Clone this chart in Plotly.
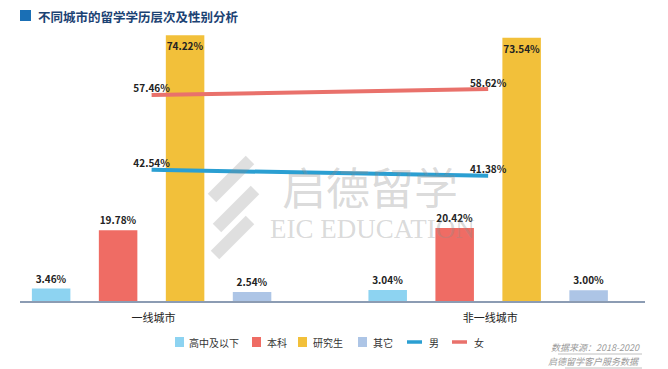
import plotly.graph_objects as go

cities = ["一线城市", "非一线城市"]
edu_levels = ["高中及以下", "本科", "研究生", "其它"]
edu_values = {
    "高中及以下": [3.46, 3.04],
    "本科": [19.78, 20.42],
    "研究生": [74.22, 73.54],
    "其它": [2.54, 3.00],
}
gender_names = ["男", "女"]
male = [42.54, 41.38]
female = [57.46, 58.62]

bar_colors = {"高中及以下": "#8dd3f1", "本科": "#ef6c64", "研究生": "#f2c03a", "其它": "#adc5e6"}
line_colors = {"男": "#2b9fd2", "女": "#e9716b"}
FONT = "Noto Sans CJK SC"

W, H = 668, 369
L, R, T, B = 20, 645, 30, 301


def px_x(p):
    return (p - L) / (R - L)


def px_y(p):
    return (B - p) / (B - T)


fig = go.Figure()
for lvl in edu_levels:
    inside = lvl == "研究生"
    fig.add_trace(go.Bar(
        name=lvl, x=cities, y=edu_values[lvl],
        marker=dict(color=bar_colors[lvl], line=dict(width=0)),
        text=[f"{v:.2f}%" for v in edu_values[lvl]],
        textposition="inside" if inside else "outside",
        insidetextanchor="end",
        constraintext="none",
        textangle=0,
        textfont=dict(family=FONT, size=10, color="#222222", weight="bold"),
        outsidetextfont=dict(family=FONT, size=10, color="#222222", weight="bold"),
        insidetextfont=dict(family=FONT, size=10, color="#222222", weight="bold"),
        cliponaxis=False, showlegend=False,
    ))

for nm, vals in zip(gender_names, [male, female]):
    fig.add_trace(go.Scatter(
        name=nm, x=cities, y=vals, yaxis="y2", mode="lines+text",
        line=dict(color=line_colors[nm], width=4),
        text=[f"{v:.2f}%" for v in vals], textposition="top center",
        textfont=dict(family=FONT, size=10, color="#222222", weight="bold"),
        cliponaxis=False, showlegend=False,
    ))

fig.update_layout(
    width=W, height=H,
    margin=dict(l=L, r=W - R, t=T, b=H - B),
    paper_bgcolor="white", plot_bgcolor="white",
    barmode="group", bargap=0.204, bargroupgap=0.425,
    font=dict(family=FONT, size=10, color="#333333"),
    showlegend=False,
    xaxis=dict(type="category", range=[-0.391, 1.466], showgrid=False, zeroline=False,
               showline=True, linecolor="#8c9cb3", linewidth=2, ticks="",
               tickfont=dict(family=FONT, size=11, color="#222222"), ticklabelstandoff=6,
               ticklabelshift=2),
    yaxis=dict(range=[0, 75.7], visible=False, showgrid=False, fixedrange=True),
    yaxis2=dict(range=[16.4, 70.4], overlaying="y", visible=False, showgrid=False),
)

# Legend (drawn as shapes + text, matching the reference's compact layout)
legend_items = [(n, "bar", bar_colors[n]) for n in edu_levels] + \
               [(n, "line", line_colors[n]) for n in gender_names]
legend_sym_x = [175, 252, 298, 358, 407, 452]
legend_txt_x = [187, 265, 311, 371, 427, 472]
LEG_Y = 342
for (name, kind, col), sx, tx in zip(legend_items, legend_sym_x, legend_txt_x):
    if kind == "bar":
        fig.add_shape(type="rect", xref="paper", yref="paper",
                      x0=px_x(sx), x1=px_x(sx + 9), y0=px_y(LEG_Y + 5), y1=px_y(LEG_Y - 5),
                      fillcolor=col, line=dict(width=0))
    else:
        fig.add_shape(type="line", xref="paper", yref="paper",
                      x0=px_x(sx), x1=px_x(sx + 15), y0=px_y(LEG_Y), y1=px_y(LEG_Y),
                      line=dict(color=col, width=3.5))
    fig.add_annotation(text=name, xref="paper", yref="paper", x=px_x(tx), y=px_y(LEG_Y),
                       xanchor="left", yanchor="middle", showarrow=False,
                       font=dict(family=FONT, size=10, color="#333333"))

# Title with blue square
fig.add_shape(type="rect", xref="paper", yref="paper",
              x0=px_x(20), x1=px_x(31), y0=px_y(21), y1=px_y(10),
              fillcolor="#1a6fb5", line=dict(width=0))
fig.add_annotation(text="<b>不同城市的留学学历层次及性别分析</b>", xref="paper", yref="paper",
                   x=px_x(36), y=px_y(16), xanchor="left", yanchor="middle", showarrow=False,
                   font=dict(family=FONT, size=12.5, color="#1b4273"))

# Watermark
fig.add_annotation(text="启德留学", xref="paper", yref="paper", x=px_x(370), y=px_y(186),
                   xanchor="center", yanchor="middle", showarrow=False,
                   font=dict(family=FONT, size=44, color="rgba(140,140,140,0.33)"))
fig.add_annotation(text="EIC EDUCATION", xref="paper", yref="paper", x=px_x(372), y=px_y(229),
                   xanchor="center", yanchor="middle", showarrow=False,
                   font=dict(family="Liberation Serif", size=27, color="rgba(140,140,140,0.33)"))
for (a, b2, c, d) in [(250, 160, 212, 198), (255, 190, 217, 228), (250, 220, 215, 255)]:
    fig.add_shape(type="line", xref="paper", yref="paper",
                  x0=px_x(a), y0=px_y(b2), x1=px_x(c), y1=px_y(d),
                  line=dict(color="rgba(140,140,140,0.28)", width=12))

# Source note
fig.add_annotation(text="<i>数据来源：2018-2020</i>", xref="paper", yref="paper",
                   x=px_x(642), y=px_y(347), xanchor="right", yanchor="middle", showarrow=False,
                   font=dict(family=FONT, size=9, color="#9a9a9a"))
fig.add_annotation(text="<i>启德留学客户服务数据</i>", xref="paper", yref="paper",
                   x=px_x(642), y=px_y(361), xanchor="right", yanchor="middle", showarrow=False,
                   font=dict(family=FONT, size=9, color="#9a9a9a"))
for yy, x0 in [(354, 558), (368, 565)]:
    fig.add_shape(type="line", xref="paper", yref="paper",
                  x0=px_x(x0), x1=px_x(642), y0=px_y(yy), y1=px_y(yy),
                  line=dict(color="#b0b0b0", width=0.8))

fig.write_html("out.html", config={"displayModeBar": False},
               post_script="document.body.style.margin='0';")
